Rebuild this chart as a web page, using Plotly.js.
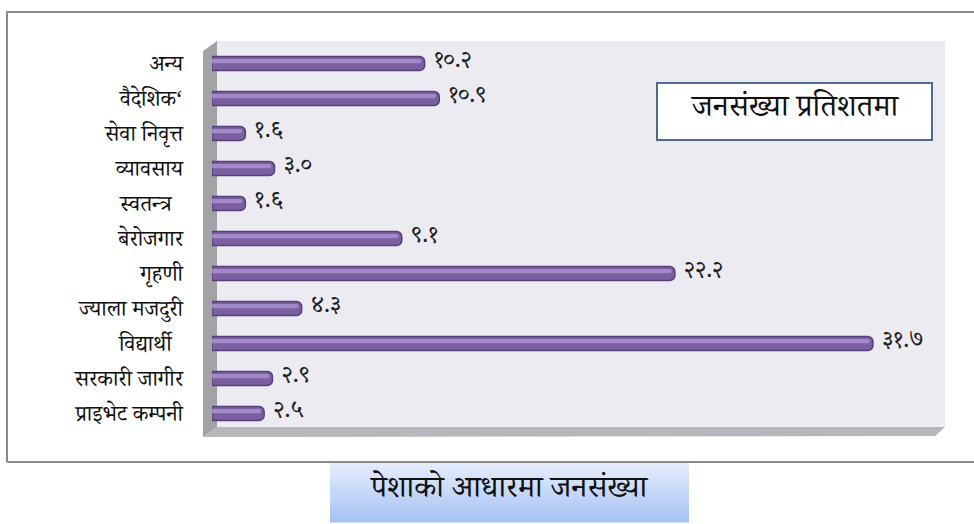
<!DOCTYPE html>
<html>
<head>
<meta charset="utf-8">
<script src="https://cdn.plot.ly/plotly-3.0.1.min.js"></script>
<style>
html,body{margin:0;padding:0;background:#fff;}
#chart{width:974px;height:524px;}
</style>
</head>
<body>
<div id="chart"></div>
<script>
// Data (top to bottom as shown)
const categories = ["अन्य", "वैदेशिक‘", "सेवा निवृत्त", "व्यावसाय", "स्वतन्त्र\u00a0\u00a0", "बेरोजगार", "गृहणी", "ज्याला मजदुरी", "विद्यार्थी\u00a0\u00a0", "सरकारी जागीर", "प्राइभेट कम्पनी"];
const values = [10.2, 10.9, 1.6, 3.0, 1.6, 9.1, 22.2, 4.3, 31.7, 2.9, 2.5];
const chartTitle = "पेशाको आधारमा जनसंख्या";
const seriesName = "जनसंख्या प्रतिशतमा";

const devDigits = "०१२३४५६७८९";
function toDev(v){ return v.toFixed(1).replace(/[0-9]/g, d => devDigits[+d]); }
const labels = values.map(v => '\u00a0' + toDev(v));

const FONT = '"Noto Serif Devanagari","Lohit Devanagari","Noto Sans Devanagari","Mangal",serif';

// pixel helpers for decoration shapes (plot area: l=212, r=29, t=46, b=93)
const L=212, R=29, T=46, B=93, W=974, H=524;
const PW=W-L-R, PH=H-T-B;
const px = x => (x-L)/PW;
const py = y => (H-B-y)/PH;
function poly(pts){ return 'M'+pts.map(p=>px(p[0])+','+py(p[1])).join(' L')+' Z'; }

const shapes = [];
// outer border
shapes.push({type:'path', xref:'paper', yref:'paper', path:'M'+px(7)+','+py(462)+' L'+px(7)+','+py(12)+' L'+px(980)+','+py(12)+' M'+px(7)+','+py(462)+' L'+px(980)+','+py(462), line:{color:'#8a8a8a', width:2}, layer:'below'});
// back wall
shapes.push({type:'rect', xref:'paper', yref:'paper', x0:px(217), x1:px(945), y0:py(427), y1:py(41), fillcolor:'#EDEBF2', line:{width:0}, layer:'below'});
// left wall
shapes.push({type:'path', xref:'paper', yref:'paper', path:poly([[203,51],[217,41],[217,427],[203,437]]), fillcolor:'#A3A3A6', line:{width:0}, layer:'below'});
// floor
shapes.push({type:'path', xref:'paper', yref:'paper', path:poly([[217,427],[945,427],[935,436],[203,437]]), fillcolor:'#B7B6BA', line:{width:0}, layer:'below'});
// title box gradient
const tb={x0:330,x1:689,y0:463,y1:522}, N=24;
const c0=[228,236,252], c1=[166,195,244];
for(let i=0;i<N;i++){
  const t=i/(N-1);
  const c=c0.map((a,k)=>Math.round(a+(c1[k]-a)*t));
  const ya=tb.y0+(tb.y1-tb.y0)*i/N, yb=tb.y0+(tb.y1-tb.y0)*(i+1)/N+0.5;
  shapes.push({type:'rect', xref:'paper', yref:'paper', x0:px(tb.x0), x1:px(tb.x1), y0:py(yb), y1:py(ya), fillcolor:'rgb('+c.join(',')+')', line:{width:0}, layer:'below'});
}
// series label box
shapes.push({type:'rect', xref:'paper', yref:'paper', x0:px(657), x1:px(932), y0:py(140), y1:py(83), fillcolor:'#ffffff', line:{color:'#4F6C8F', width:2}});

const trace = {
  type:'bar', orientation:'h',
  y: categories, x: values,
  text: labels, textposition:'outside', cliponaxis:false, constraintext:'none',
  textfont:{family:FONT, size:24, color:'#222'},
  width:0.4,
  marker:{color:'#7B5FA0', line:{color:'#54417A', width:1.5}, cornerradius:5},
  hoverinfo:'none', name: seriesName
};
// highlight overlay for cylinder look (same data)
const shine = {
  type:'bar', orientation:'h',
  y: categories, x: values.map(v => v - 0.15),
  width:0.12, offset:-0.13,
  marker:{color:'rgba(168,146,206,0.85)', line:{width:0}, cornerradius:2},
  hoverinfo:'none', showlegend:false
};

const layout = {
  width:W, height:H,
  margin:{l:L, r:R, t:T, b:B, pad:0},
  paper_bgcolor:'#ffffff', plot_bgcolor:'rgba(0,0,0,0)',
  showlegend:false,
  barmode:'overlay',
  font:{family:FONT, color:'#111'},
  xaxis:{range:[0, PW/20.85], showgrid:false, zeroline:false, showticklabels:false, showline:false, ticks:''},
  yaxis:{autorange:'reversed', showgrid:false, zeroline:false, showline:false, ticks:'', ticklabelstandoff:28, tickfont:{family:FONT, size:22, color:'#111'}},
  shapes: shapes,
  annotations:[
    {xref:'paper', yref:'paper', x:px(794), y:py(111), text:seriesName, showarrow:false, font:{family:FONT, size:31, color:'#111'}, xanchor:'center', yanchor:'middle'},
    {xref:'paper', yref:'paper', x:px(508), y:py(492), text:chartTitle, showarrow:false, font:{family:FONT, size:31, color:'#111'}, xanchor:'center', yanchor:'middle'}
  ]
};

Plotly.newPlot('chart', [trace, shine], layout, {staticPlot:true, displayModeBar:false});
</script>
</body>
</html>
